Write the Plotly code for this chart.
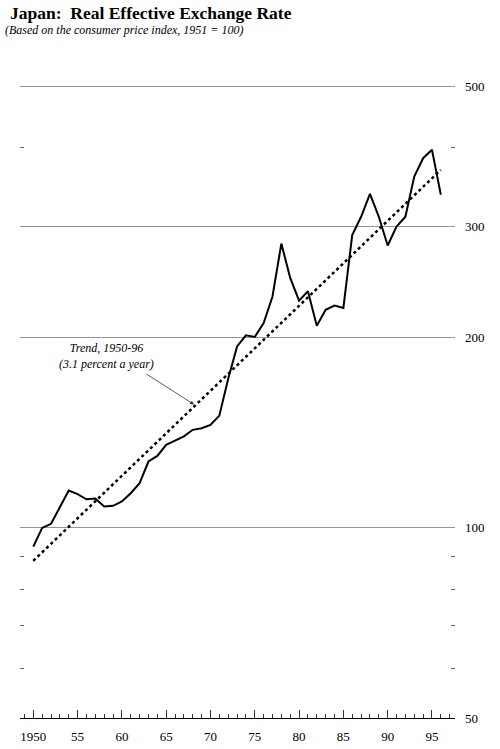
import math
import plotly.graph_objects as go

years = list(range(1950, 1997))
reer = [93.4, 100.0, 101.5, 108.1, 114.6, 113.1, 111.0, 111.3, 108.1, 108.4,
        110.1, 113.5, 117.7, 127.4, 130.0, 135.4, 137.5, 139.6, 143.0, 143.8,
        145.6, 150.6, 172.3, 193.8, 201.8, 200.6, 211.0, 232.5, 282.0, 248.8,
        229.0, 237.0, 209.0, 221.5, 225.0, 223.0, 291.0, 311.0, 338.0, 311.0,
        280.0, 300.0, 311.0, 360.0, 385.0, 397.0, 337.0]
trend_years = [1950, 1996]
trend_vals = [88.7, 369.0]

x_tick_vals = [1950, 1955, 1960, 1965, 1970, 1975, 1980, 1985, 1990, 1995]
x_tick_text = ["1950", "55", "60", "65", "70", "75", "80", "85", "90", "95"]
y_tick_vals = [50, 100, 200, 300, 500]
y_tick_text = ["50", "100", "200", "300", "500"]
y_minor_vals = [60, 70, 80, 90, 400]

serif = "Liberation Serif, Times New Roman, serif"
W, H = 500, 749
L, R, B = 20, 45, 31
extra = 0.004                      # small headroom so the 500 gridline is drawn
T = H - B - 631 * (1 + extra)
y_range = [math.log10(50), math.log10(500) + extra]

fig = go.Figure()
fig.add_trace(go.Scatter(x=trend_years, y=trend_vals, mode="lines",
                         line=dict(color="black", width=2.5, dash="dot"),
                         hoverinfo="skip", showlegend=False))
fig.add_trace(go.Scatter(x=years, y=reer, mode="lines",
                         line=dict(color="black", width=2),
                         showlegend=False))
# invisible trace so the left-side tick axis is drawn
fig.add_trace(go.Scatter(x=[years[0]], y=[reer[0]], mode="markers", yaxis="y2",
                         marker=dict(opacity=0), hoverinfo="skip", showlegend=False))

fig.update_layout(
    width=W, height=H,
    margin=dict(l=L, r=R, t=T, b=B, autoexpand=False),
    paper_bgcolor="white", plot_bgcolor="white",
    font=dict(family=serif, color="black", size=13),
    title=dict(text="<b>Japan:  Real Effective Exchange Rate</b>",
               x=10 / W, xref="container", xanchor="left",
               y=1 - 13 / H, yref="container", yanchor="middle",
               font=dict(family=serif, size=17.5, color="black")),
    showlegend=False,
    yaxis2=dict(type="log", range=y_range, overlaying="y", side="left",
                showgrid=False, zeroline=False, showline=False,
                showticklabels=False, ticks="", tickvals=y_tick_vals,
                automargin=False,
                minor=dict(tickvals=y_minor_vals, ticks="inside", ticklen=4,
                           tickcolor="#666", showgrid=False)),
)

fig.update_xaxes(
    range=[1948.5, 1997.6], showgrid=False, zeroline=False,
    showline=True, linecolor="black", linewidth=1,
    ticks="inside", ticklen=8, tickcolor="#333", tickwidth=1,
    tickvals=x_tick_vals, ticktext=x_tick_text,
    ticklabelstandoff=6, automargin=False,
    minor=dict(dtick=1, tick0=1950, ticks="inside", ticklen=4, tickcolor="#333", showgrid=False),
)

fig.layout.yaxis.update(
    type="log", range=y_range,
    side="right", showline=False, zeroline=False,
    showgrid=True, gridcolor="#959595", gridwidth=1,
    tickvals=y_tick_vals, ticktext=y_tick_text, ticks="",
    ticklabelstandoff=9, automargin=False,
    minor=dict(tickvals=y_minor_vals, ticks="inside", ticklen=4, tickcolor="#666", showgrid=False),
)

fig.add_annotation(xref="paper", yref="paper", x=(3 - L) / (W - L - R), y=(H - B - 31) / (H - T - B),
                   xanchor="left", yanchor="middle", showarrow=False,
                   text="<i>(Based on the consumer price index, 1951 = 100)</i>",
                   font=dict(family=serif, size=12, color="black"))

fig.add_annotation(x=1958.3, y=math.log10(187.5), xref="x", yref="y",
                   xanchor="center", yanchor="middle", showarrow=False,
                   text="<i>Trend, 1950-96<br>(3.1 percent a year)</i>",
                   font=dict(family=serif, size=12, color="black"))
fig.add_annotation(x=1968.25, y=math.log10(156.5), xref="x", yref="y",
                   text="", showarrow=True, ax=-50, ay=-32, arrowhead=2, arrowsize=1,
                   arrowwidth=0.8, arrowcolor="#333", standoff=1)

fig.write_html("out.html", config={"displayModeBar": False},
               post_script="document.body.style.margin='0';")
